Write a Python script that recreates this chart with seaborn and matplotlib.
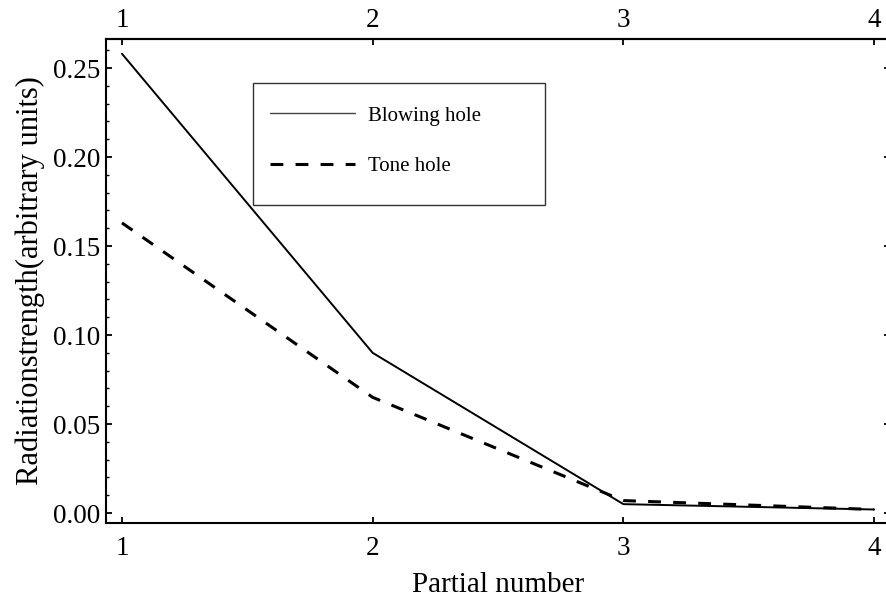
import matplotlib
matplotlib.use("Agg")
import matplotlib.pyplot as plt
from matplotlib.lines import Line2D
from matplotlib.patches import Rectangle
from matplotlib.ticker import (MultipleLocator, FormatStrFormatter,
                               FixedLocator, NullLocator)
import pandas as pd
import seaborn as sns

# Radiated strength per partial for the two openings of the flute
partials = [1, 2, 3, 4]
blowing_hole = [0.258, 0.090, 0.005, 0.002]
tone_hole = [0.163, 0.065, 0.007, 0.002]
series_names = ["Blowing hole", "Tone hole"]
x_ticks = [1, 2, 3, 4]
y_ticks = [0.00, 0.05, 0.10, 0.15, 0.20, 0.25]

df = pd.DataFrame({
    "Partial": partials * 2,
    "Strength": blowing_hole + tone_hole,
    "Source": [series_names[0]] * len(partials) + [series_names[1]] * len(partials),
})

sns.set_theme(style="white")
plt.rcParams["font.family"] = ["Liberation Serif", "DejaVu Serif"]
plt.rcParams["axes.edgecolor"] = "black"
plt.rcParams["axes.linewidth"] = 1.5
plt.rcParams["xtick.minor.visible"] = False
plt.rcParams["xtick.minor.size"] = 0

fig = plt.figure(figsize=(8.86, 6.0), dpi=100)
ax = fig.add_axes([0.1196, 0.1283, 0.885, 0.8067])

sns.lineplot(
    data=df, x="Partial", y="Strength",
    style="Source", size="Source",
    dashes={series_names[0]: "", series_names[1]: (4.2, 4.0)},
    sizes={series_names[0]: 1.4, series_names[1]: 2.2},
    color="black", legend=False, ax=ax,
)

ax.set_xlim(0.9362, 4.0638)
ax.set_ylim(-0.0056, 0.2663)

ax.tick_params(which="both", direction="in", left=True, bottom=True,
               top=False, right=True, labelright=False, color="black",
               labelsize=19.5, labelcolor="black")
ax.tick_params(which="major", length=4, width=1.3)
ax.tick_params(axis="y", which="minor", length=2.5, width=1.0)
ax.tick_params(axis="x", pad=9)
ax.tick_params(axis="y", pad=4)

# Top frame ticks carry the same partial numbers
top = ax.secondary_xaxis("top")
top.xaxis.set_major_locator(FixedLocator(x_ticks))
top.tick_params(direction="in", length=4, width=1.3, pad=4, color="black",
                labelsize=19.5, labelcolor="black")
top.spines["top"].set_linewidth(1.5)

ax.xaxis.set_major_locator(FixedLocator(x_ticks))
ax.xaxis.set_minor_locator(NullLocator())
top.xaxis.set_minor_locator(NullLocator())
ax.yaxis.set_major_locator(FixedLocator(y_ticks))
ax.yaxis.set_minor_locator(MultipleLocator(0.01))
ax.yaxis.set_major_formatter(FormatStrFormatter("%.2f"))

ax.set_xlabel("Partial number", fontsize=21, color="black", labelpad=8)
ax.set_ylabel("Radiationstrength(arbitrary units)", fontsize=22,
              color="black", labelpad=6)

for side in ["left", "right", "top", "bottom"]:
    ax.spines[side].set_visible(True)
    ax.spines[side].set_linewidth(1.5)

# Legend with its own frame
fig.patches.append(Rectangle((253 / 886, 1 - 205 / 600), 292 / 886, 122 / 600,
                             transform=fig.transFigure, fill=False,
                             edgecolor="#333333", linewidth=1.0))
handles = [
    Line2D([], [], color="#444444", linewidth=1.0),
    Line2D([], [], color="black", linewidth=2.2, dashes=(4.2, 4.0)),
]
fig.legend(handles, series_names, loc="upper left",
           bbox_to_anchor=(270 / 886, 1 - 106 / 600),
           bbox_transform=fig.transFigure, frameon=False,
           fontsize=15, borderpad=0, borderaxespad=0,
           handlelength=4.1, handletextpad=0.6, labelspacing=1.5,
           labelcolor="black")

fig.savefig("out.png", dpi=100, facecolor="white")
